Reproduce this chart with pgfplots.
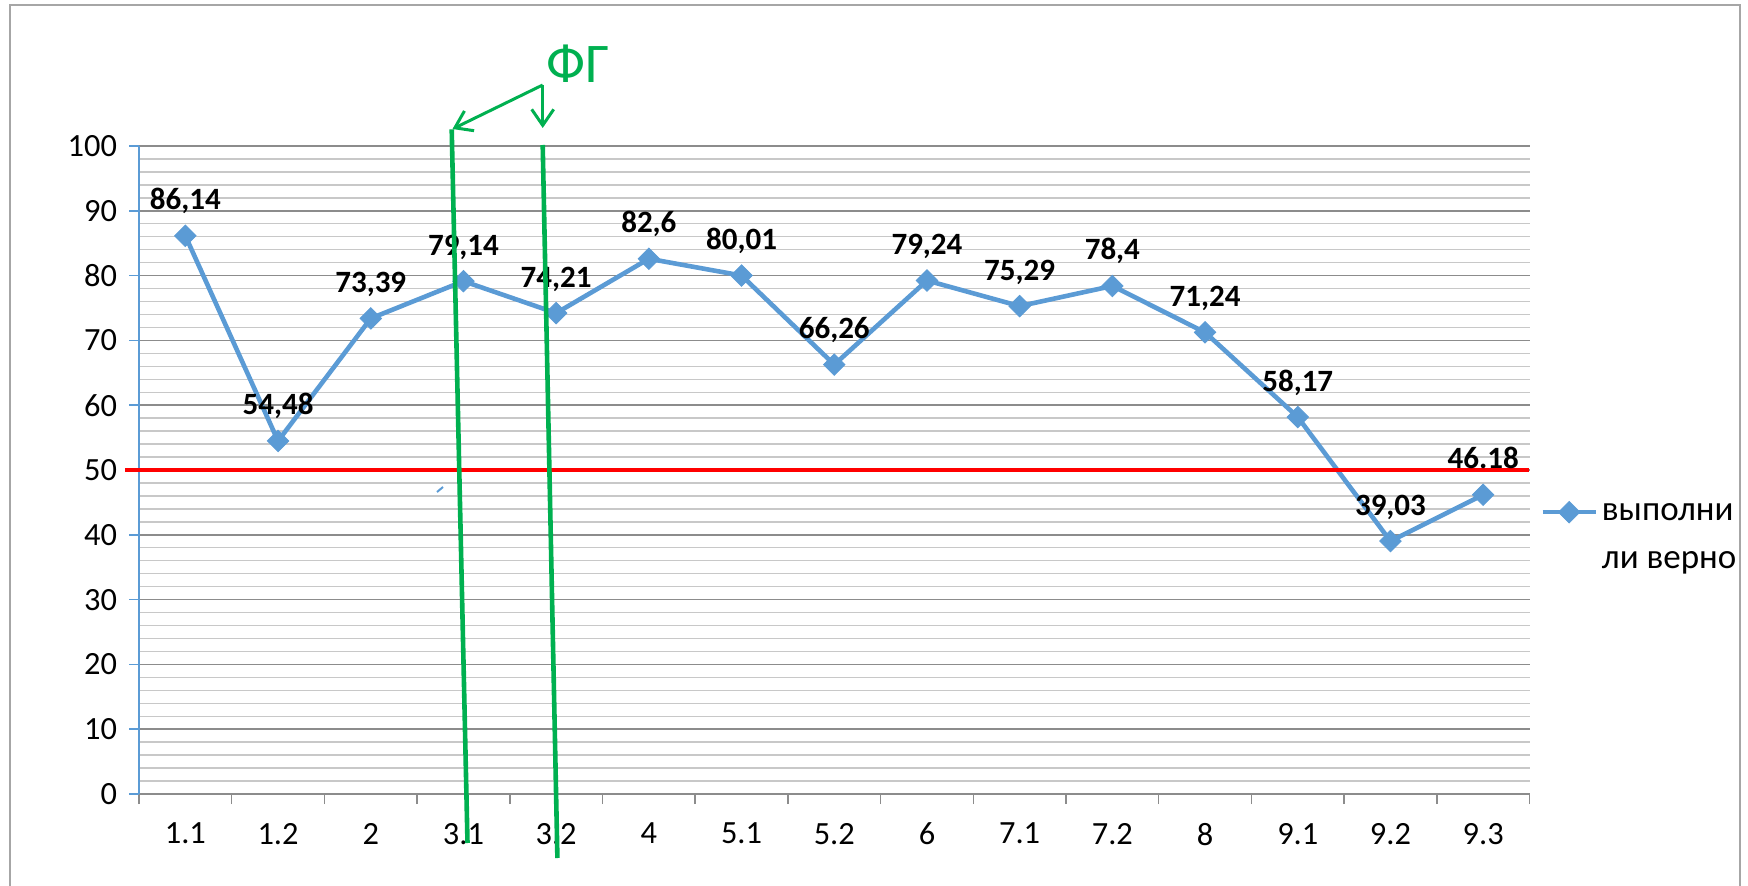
\documentclass[border=0pt]{standalone}
\usepackage{fontspec}
\setmainfont{Carlito}
\usepackage{pgfplots}
\usepackage{pgfplotstable}
\pgfplotsset{compat=1.18}
\usetikzlibrary{arrows.meta}
\definecolor{serblue}{HTML}{5B9BD5}
\definecolor{gridmaj}{HTML}{8C8C8C}
\definecolor{gridmin}{HTML}{C8C8C8}
\definecolor{framegray}{HTML}{A6A6A6}
\definecolor{exgreen}{HTML}{00B050}

\pgfplotstableread{
x y lab
0 86.14 86,14
1 54.48 54,48
2 73.39 73,39
3 79.14 79,14
4 74.21 74,21
5 82.6 82,6
6 80.01 80,01
7 66.26 66,26
8 79.24 79,24
9 75.29 75,29
10 78.4 78,4
11 71.24 71,24
12 58.17 58,17
13 39.03 39,03
14 46.18 46.18
}\datatable

\begin{document}
\begin{tikzpicture}
\useasboundingbox (0,0) rectangle (874pt,442.5pt);
\begin{scope}[x=0.5pt,y=-0.5pt,shift={(0pt,442.5pt)}]
\draw[framegray, line width=1pt] (10,900) -- (10,5) -- (1740,5) -- (1740,900);
\end{scope}
\begin{axis}[
  at={(69.5pt,45.5pt)}, anchor=south west,
  scale only axis, width=695.25pt, height=324pt,
  xmin=-0.5, xmax=14.5, ymin=0, ymax=100,
  axis x line=bottom, axis y line=left, axis line style={-},
  x axis line style={gridmaj, line width=0.75pt},
  y axis line style={serblue, line width=0.75pt},
  tick align=outside, major tick length=5pt, minor tick length=0pt,
  xtick={-0.5,0.5,1.5,2.5,3.5,4.5,5.5,6.5,7.5,8.5,9.5,10.5,11.5,12.5,13.5,14.5},
  xticklabels={},
  extra x ticks={0,1,2,3,4,5,6,7,8,9,10,11,12,13,14},
  extra x tick labels={1.1,1.2,2,3.1,3.2,4,5.1,5.2,6,7.1,7.2,8,9.1,9.2,9.3},
  extra x tick style={major tick length=0pt, xticklabel style={yshift=-11pt}},
  x tick style={gridmaj, line width=0.75pt},
  y tick style={serblue, line width=0.75pt},
  ytick={0,10,...,100},
  minor ytick={2,4,6,8,12,14,16,18,22,24,26,28,32,34,36,38,42,44,46,48,52,54,56,58,62,64,66,68,72,74,76,78,82,84,86,88,92,94,96,98},
  ymajorgrids, yminorgrids,
  major grid style={gridmaj, line width=0.75pt},
  minor grid style={gridmin, line width=0.7pt},
  /pgf/number format/assume math mode=true,
  ticklabel style={font=\fontsize{16.2}{19}\selectfont, black},
  yticklabel style={xshift=-2.5pt},
  clip=false,
  legend style={draw=none, fill=none, at={(1.0075,0.396)}, anchor=west,
    font=\fontsize{17.5}{24}\selectfont, nodes={align=left}, inner sep=0pt},
  legend image code/.code={\draw[#1, mark repeat=2, mark phase=2] plot coordinates {(0pt,12.6pt) (13.25pt,12.6pt) (26.5pt,12.6pt)};},
]
\addplot[serblue, line width=2.3pt, mark=square*, mark size=3.8pt,
  mark options={rotate=45, solid, fill=serblue, draw=serblue, line width=0.4pt},
  nodes near coords, point meta=explicit symbolic,
  every node near coord/.append style={font=\fontsize{15.5}{18}\bfseries\selectfont, black, anchor=base, yshift=13pt}]
  table[x=x, y=y, meta=lab]{\datatable};
\addlegendentry{выполни\\ли верно}
\draw[red, line width=2.3pt] (axis cs:-0.651,50) -- (axis cs:14.49,50);
\end{axis}
\begin{scope}[x=0.5pt,y=-0.5pt,shift={(0pt,442.5pt)}]
\draw[exgreen, line width=2.3pt] (451.7,129.3) -- (467.5,843);
\draw[exgreen, line width=2.3pt] (542.7,145) -- (557.4,858);
\draw[exgreen, line width=1.5pt, -{Straight Barb[length=8pt,width=11pt]}] (542.7,85) -- (452.5,129);
\draw[exgreen, line width=1.5pt, -{Straight Barb[length=8pt,width=11pt]}] (542.7,85) -- (542.7,128);
\node[exgreen, font=\fontsize{28}{32}\selectfont] at (578.5,63.5) {ФГ};
\draw[serblue, line width=1pt] (437,492) -- (443,487);
\end{scope}
\end{tikzpicture}
\end{document}
